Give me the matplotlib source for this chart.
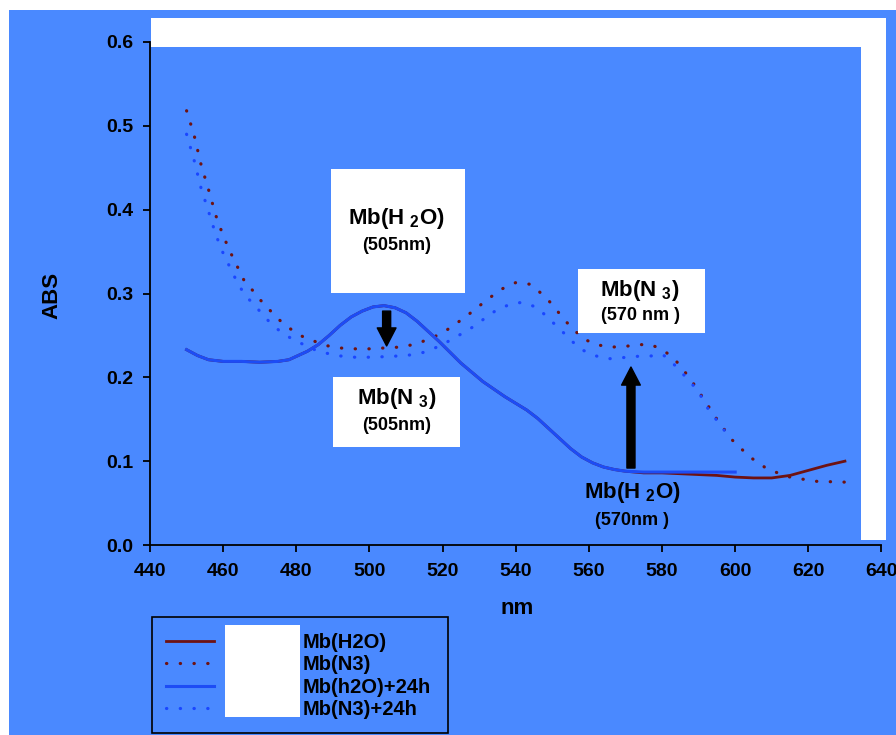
import matplotlib
matplotlib.use("Agg")
import matplotlib.pyplot as plt
from matplotlib.patches import Rectangle

plt.rcParams['font.family'] = ['Liberation Sans', 'DejaVu Sans']
plt.rcParams['font.weight'] = 'bold'
plt.rcParams['mathtext.fontset'] = 'custom'
plt.rcParams['mathtext.bf'] = 'Liberation Sans:bold'
plt.rcParams['mathtext.rm'] = 'Liberation Sans:bold'

BG = '#4a89ff'
RED = '#6e1212'
BLUE = '#1d4cf5'
DOTBLUE = '#1a46ff'

# Mb(H2O), solid red
h2o_nm = [450, 453, 456, 460, 465, 470, 475, 478, 480, 483, 486, 489, 492, 495, 498,
          501, 504, 507, 510, 513, 516, 519, 522, 525, 528, 531, 534, 537, 540, 543,
          546, 549, 552, 555, 558, 561, 564, 567, 570, 575, 580, 585, 590, 595, 600,
          605, 610, 615, 620, 625, 630]
h2o_abs = [0.233, 0.226, 0.221, 0.219, 0.219, 0.218, 0.219, 0.221, 0.225, 0.231, 0.239,
           0.250, 0.262, 0.272, 0.279, 0.284, 0.2855, 0.283, 0.277, 0.267, 0.255, 0.243,
           0.230, 0.217, 0.206, 0.195, 0.186, 0.177, 0.169, 0.161, 0.151, 0.139, 0.127,
           0.115, 0.105, 0.098, 0.093, 0.090, 0.088, 0.086, 0.086, 0.085, 0.084, 0.083,
           0.081, 0.080, 0.080, 0.083, 0.089, 0.095, 0.100]

# Mb(h2O)+24h, solid blue
h2o24_nm = [450, 453, 456, 460, 465, 470, 475, 478, 480, 483, 486, 489, 492, 495, 498,
            501, 504, 507, 510, 513, 516, 519, 522, 525, 528, 531, 534, 537, 540, 543,
            546, 549, 552, 555, 558, 561, 564, 567, 570, 575, 580, 585, 590, 595, 600]
h2o24_abs = [0.233, 0.226, 0.221, 0.219, 0.219, 0.218, 0.219, 0.221, 0.225, 0.231, 0.239,
             0.250, 0.262, 0.272, 0.279, 0.284, 0.2855, 0.283, 0.277, 0.267, 0.255, 0.243,
             0.230, 0.217, 0.206, 0.195, 0.186, 0.177, 0.169, 0.161, 0.151, 0.139, 0.127,
             0.115, 0.105, 0.098, 0.093, 0.090, 0.088, 0.087, 0.087, 0.087, 0.087, 0.087,
             0.087]

# Mb(N3), dotted red
n3_nm = [450, 452, 454, 456, 458, 460, 462, 464, 466, 468, 470, 472, 474, 476, 478, 480,
         482, 485, 488, 492, 496, 500, 504, 508, 512, 516, 520, 524, 528, 532, 536, 540,
         544, 547, 550, 553, 556, 559, 562, 566, 570, 574, 577, 580, 583, 586, 589, 592,
         595, 599, 604, 609, 615, 622, 630]
n3_abs = [0.518, 0.490, 0.453, 0.424, 0.393, 0.369, 0.349, 0.331, 0.313, 0.304, 0.293,
          0.284, 0.274, 0.266, 0.259, 0.253, 0.248, 0.243, 0.238, 0.235, 0.234, 0.234,
          0.235, 0.236, 0.239, 0.245, 0.253, 0.265, 0.278, 0.292, 0.305, 0.313, 0.311,
          0.300, 0.287, 0.270, 0.256, 0.245, 0.239, 0.236, 0.237, 0.239, 0.239, 0.233,
          0.224, 0.208, 0.190, 0.170, 0.150, 0.126, 0.105, 0.090, 0.081, 0.076, 0.075]

# Mb(N3)+24h, dotted blue
n324_nm = [450, 452, 454, 456, 458, 460, 462, 464, 466, 469, 472, 475, 478, 482, 485,
           488, 492, 496, 500, 504, 508, 512, 515, 519, 522, 526, 529, 532, 535, 539,
           542, 546, 549, 552, 555, 558, 562, 565, 569, 573, 577, 580, 582, 584, 587,
           590, 592, 597]
n324_abs = [0.490, 0.460, 0.425, 0.398, 0.370, 0.348, 0.330, 0.312, 0.298, 0.284, 0.269,
            0.257, 0.248, 0.239, 0.233, 0.229, 0.2255, 0.224, 0.224, 0.2246, 0.2255,
            0.227, 0.230, 0.237, 0.244, 0.254, 0.262, 0.272, 0.281, 0.288, 0.2895, 0.283,
            0.270, 0.258, 0.2445, 0.233, 0.2255, 0.222, 0.2234, 0.225, 0.2255, 0.2275,
            0.2215, 0.212, 0.198, 0.183, 0.166, 0.137]

legend_labels = ['Mb(H2O)', 'Mb(N3)', 'Mb(h2O)+24h', 'Mb(N3)+24h']
x_ticks = [440, 460, 480, 500, 520, 540, 560, 580, 600, 620, 640]
y_ticks = [0.0, 0.1, 0.2, 0.3, 0.4, 0.5, 0.6]

W, H = 896, 735
fig = plt.figure(figsize=(W / 100, H / 100), dpi=100, facecolor='white')

def fx(px):
    return px / W

def fy(py):
    return 1 - py / H

# blue page and white cover strips
fig.add_artist(Rectangle((fx(9), 0), 1 - fx(9), fy(10), transform=fig.transFigure,
                         facecolor=BG, edgecolor='none', zorder=-10))
fig.add_artist(Rectangle((fx(151), fy(47)), fx(882 - 151), (47 - 18) / H,
                         transform=fig.transFigure, facecolor='white',
                         edgecolor='none', zorder=8))
fig.add_artist(Rectangle((fx(861), fy(540)), fx(886 - 861), (540 - 18) / H,
                         transform=fig.transFigure, facecolor='white',
                         edgecolor='none', zorder=8))

ax = fig.add_axes([fx(150), fy(545), fx(881.5 - 150), (545 - 42) / H])
ax.set_facecolor('none')

l1, = ax.plot(h2o_nm, h2o_abs, color=RED, lw=2.0, zorder=2)
l2, = ax.plot(n3_nm, n3_abs, color=RED, lw=2.3, linestyle=(0, (0.1, 4.2)),
              dash_capstyle='round', zorder=3)
l3, = ax.plot(h2o24_nm, h2o24_abs, color=BLUE, lw=2.2, zorder=3)
l4, = ax.plot(n324_nm, n324_abs, color=DOTBLUE, lw=2.3, linestyle=(0, (0.1, 4.2)),
              dash_capstyle='round', zorder=3)

ax.set_xlim(440, 640)
ax.set_ylim(0, 0.6)
ax.set_xticks(x_ticks)
ax.set_yticks(y_ticks)
ax.set_yticklabels(['%.1f' % v for v in y_ticks])
for s in ['top', 'right']:
    ax.spines[s].set_visible(False)
for s in ['left', 'bottom']:
    ax.spines[s].set_linewidth(1.3)
ax.tick_params(axis='both', direction='out', length=5, width=1.3)
ax.tick_params(axis='y', labelsize=14, pad=7)
ax.tick_params(axis='x', labelsize=14, pad=8)

ax.set_ylabel('ABS', fontsize=16, fontweight='bold')
ax.yaxis.set_label_coords(-0.120, 0.497)
ax.set_xlabel('nm', fontsize=16, fontweight='bold')
ax.xaxis.set_label_coords(0.5017, -0.106)

# white label boxes
boxes = [(489.5, 0.3006, 36.6, 0.1479), (557.0, 0.2529, 34.7, 0.0763),
         (490.0, 0.1169, 34.8, 0.0835)]
for bx, by, bw, bh in boxes:
    ax.add_patch(Rectangle((bx, by), bw, bh, facecolor='white', edgecolor='none', zorder=4))

big = dict(fontsize=16, fontweight='bold', ha='center', va='center', zorder=6)
small = dict(fontsize=13, fontweight='bold', ha='center', va='center', zorder=6)
ax.text(507.5, 0.389, r'Mb(H $_{\mathbf{2}}$O)', **big)
ax.text(507.5, 0.357, '(505nm)', **small)
ax.text(574.0, 0.303, r'Mb(N $_{\mathbf{3}}$)', **big)
ax.text(574.0, 0.274, '(570 nm )', **small)
ax.text(507.5, 0.175, r'Mb(N $_{\mathbf{3}}$)', **big)
ax.text(507.5, 0.143, '(505nm)', **small)
ax.text(571.8, 0.063, r'Mb(H $_{\mathbf{2}}$O)', **big)
ax.text(571.8, 0.029, '(570nm )', **small)

arrow = dict(arrowstyle='simple,head_length=1.3,head_width=1.35,tail_width=0.58',
             mutation_scale=10, color='black', shrinkA=0, shrinkB=0)
ax.annotate('', xy=(504.7, 0.2374), xytext=(504.7, 0.279), arrowprops=arrow, zorder=5)
ax.annotate('', xy=(571.5, 0.2123), xytext=(571.5, 0.0918), arrowprops=arrow, zorder=5)

leg = fig.legend([l1, l2, l3, l4], legend_labels, loc='upper left',
                 bbox_to_anchor=(fx(150.3), fy(617)), borderaxespad=0,
                 prop={'family': 'Liberation Sans', 'weight': 'bold', 'size': 14.5},
                 frameon=False, handlelength=2.39, handletextpad=4.38,
                 borderpad=0.78, labelspacing=0.17)
fig.add_artist(Rectangle((fx(152), fy(733)), fx(448 - 152), (733 - 617) / H,
                         transform=fig.transFigure, facecolor='none',
                         edgecolor='black', lw=1.2, zorder=7))
fig.add_artist(Rectangle((fx(225), fy(717)), fx(300 - 225), (717 - 625) / H,
                         transform=fig.transFigure, facecolor='white',
                         edgecolor='none', zorder=9))

fig.savefig('out.png', dpi=100, facecolor='white')
